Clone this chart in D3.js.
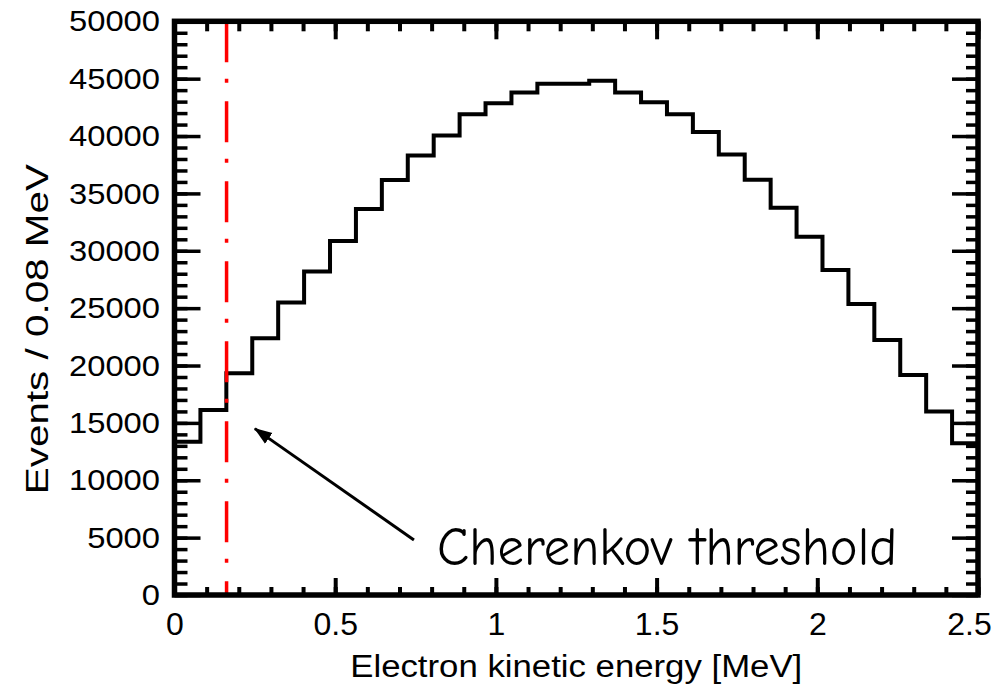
<!DOCTYPE html>
<html>
<head>
<meta charset="utf-8">
<script src="https://cdn.jsdelivr.net/npm/d3@7"></script>
<style>
  html, body { margin: 0; padding: 0; background: #ffffff; }
  svg { display: block; }
</style>
</head>
<body>
<svg id="chart" width="1003" height="685"></svg>
<script>
// Electron kinetic energy spectrum, 31 equal bins spanning the axis range
const energyRange = [0, 2.5];
const countRange = [0, 50000];
const eventsPerBin = [
  13360, 16120, 19320, 22370, 25500, 28200, 30850, 33650, 36170, 38300,
  40050, 41900, 42850, 43800, 44550, 44550, 44820, 43800, 42940, 41900,
  40350, 38400, 36200, 33750, 31230, 28320, 25360, 22220, 19170, 16000,
  13220
];

const xMajorTicks = [0, 0.5, 1, 1.5, 2, 2.5];
const xTickLabels = ["0", "0.5", "1", "1.5", "2", "2.5"];
const yMajorTicks = [0, 5000, 10000, 15000, 20000, 25000, 30000, 35000, 40000, 45000, 50000];
const yTickLabels = ["0", "5000", "10000", "15000", "20000", "25000", "30000", "35000", "40000", "45000", "50000"];

const thresholdEnergy = 0.162;
const xTitle = "Electron kinetic energy [MeV]";
const yTitle = "Events / 0.08 MeV";
const noteText = "Cherenkov threshold";
// annotation anchor points in data units: arrow tip, arrow tail, text start
const noteArrowTip = [0.25, 14500];
const noteArrowTail = [0.745, 4800];
const noteTextAt = [0.817, 2615];

const svg = d3.select("#chart");
const frame = { left: 174.5, right: 978, top: 21.3, bottom: 595 };

const x = d3.scaleLinear().domain(energyRange).range([frame.left, frame.right]);
const y = d3.scaleLinear().domain(countRange).range([frame.bottom, frame.top]);

const sansFont = "'Liberation Sans', Arial, Helvetica, sans-serif";

// ---- tick marks on all four sides, pointing inward ----
function styleTicks(g, width) {
  g.select(".domain").remove();
  g.selectAll(".tick line").attr("stroke", "#000").attr("stroke-width", width);
}

const xMinor = x.ticks(25);
const yMinor = y.ticks(50);

// bottom
svg.append("g").attr("transform", `translate(0,${frame.bottom})`)
  .call(d3.axisBottom(x).tickValues(xMinor).tickSize(-8).tickFormat(""))
  .call(g => styleTicks(g, 4));
const xAxisMajor = svg.append("g").attr("transform", `translate(0,${frame.bottom})`)
  .call(d3.axisBottom(x).tickValues(xMajorTicks).tickSize(-17).tickPadding(17.5)
    .tickFormat((d, i) => xTickLabels[i]))
  .call(g => styleTicks(g, 4));
xAxisMajor.selectAll(".tick text")
  .attr("fill", "#000")
  .attr("font-family", sansFont)
  .attr("font-size", 32)
  .attr("dx", (d, i) => i === xTickLabels.length - 1 ? -9 : 0);

// top
svg.append("g").attr("transform", `translate(0,${frame.top})`)
  .call(d3.axisTop(x).tickValues(xMinor).tickSize(-10).tickFormat(""))
  .call(g => styleTicks(g, 4));
svg.append("g").attr("transform", `translate(0,${frame.top})`)
  .call(d3.axisTop(x).tickValues(xMajorTicks).tickSize(-18).tickFormat(""))
  .call(g => styleTicks(g, 4));

// left
svg.append("g").attr("transform", `translate(${frame.left},0)`)
  .call(d3.axisLeft(y).tickValues(yMinor).tickSize(-13).tickFormat(""))
  .call(g => styleTicks(g, 3.5));
const yAxisMajor = svg.append("g").attr("transform", `translate(${frame.left},0)`)
  .call(d3.axisLeft(y).tickValues(yMajorTicks).tickSize(-26).tickPadding(14.5)
    .tickFormat((d, i) => yTickLabels[i]))
  .call(g => styleTicks(g, 3.5));
yAxisMajor.selectAll(".tick text")
  .attr("fill", "#000")
  .attr("font-family", sansFont)
  .attr("font-size", 30)
  .attr("textLength", (d, i) => yTickLabels[i].length * 18.2)
  .attr("lengthAdjust", "spacingAndGlyphs");

// right
svg.append("g").attr("transform", `translate(${frame.right},0)`)
  .call(d3.axisRight(y).tickValues(yMinor).tickSize(-12).tickFormat(""))
  .call(g => styleTicks(g, 3.5));
svg.append("g").attr("transform", `translate(${frame.right},0)`)
  .call(d3.axisRight(y).tickValues(yMajorTicks).tickSize(-26).tickFormat(""))
  .call(g => styleTicks(g, 3.5));

// ---- histogram outline ----
const binWidth = (energyRange[1] - energyRange[0]) / eventsPerBin.length;
const stepPoints = eventsPerBin.map((v, i) => [energyRange[0] + i * binWidth, v]);
stepPoints.push([energyRange[1], eventsPerBin[eventsPerBin.length - 1]]);

const stepLine = d3.line()
  .x(d => x(d[0]))
  .y(d => y(d[1]))
  .curve(d3.curveStepAfter);

svg.append("path")
  .datum(stepPoints)
  .attr("d", stepLine)
  .attr("fill", "none")
  .attr("stroke", "#000")
  .attr("stroke-width", 4)
  .attr("stroke-linejoin", "miter");

// ---- threshold marker (dash-dot) ----
svg.append("line")
  .attr("x1", x(thresholdEnergy)).attr("x2", x(thresholdEnergy))
  .attr("y1", y(countRange[1])).attr("y2", y(countRange[0]))
  .attr("stroke", "#ff0000")
  .attr("stroke-width", 3.5)
  .attr("stroke-dasharray", "41,16.5,4,18.5");

// ---- frame ----
svg.append("rect")
  .attr("x", frame.left).attr("y", frame.top)
  .attr("width", frame.right - frame.left)
  .attr("height", frame.bottom - frame.top)
  .attr("fill", "none")
  .attr("stroke", "#000")
  .attr("stroke-width", 5.5);

// ---- axis titles ----
svg.append("text")
  .attr("x", (frame.left + frame.right) / 2)
  .attr("y", 677)
  .attr("text-anchor", "middle")
  .attr("font-family", sansFont)
  .attr("font-size", 31)
  .attr("textLength", 452)
  .attr("lengthAdjust", "spacingAndGlyphs")
  .attr("fill", "#000")
  .text(xTitle);

svg.append("text")
  .attr("transform", `translate(48,${(frame.top + frame.bottom) / 2 + 21}) rotate(-90)`)
  .attr("text-anchor", "middle")
  .attr("font-family", sansFont)
  .attr("font-size", 31)
  .attr("textLength", 330)
  .attr("lengthAdjust", "spacingAndGlyphs")
  .attr("fill", "#000")
  .text(yTitle);

// ---- annotation ----
const defs = svg.append("defs");
defs.append("marker")
  .attr("id", "arrowhead")
  .attr("markerUnits", "userSpaceOnUse")
  .attr("viewBox", "0 -7 18 14")
  .attr("markerWidth", 18)
  .attr("markerHeight", 14)
  .attr("refX", 17)
  .attr("refY", 0)
  .attr("orient", "auto")
  .append("path")
  .attr("d", "M0,-6.5L18,0L0,6.5Z")
  .attr("fill", "#000");

svg.append("line")
  .attr("x1", x(noteArrowTail[0])).attr("y1", y(noteArrowTail[1]))
  .attr("x2", x(noteArrowTip[0])).attr("y2", y(noteArrowTip[1]))
  .attr("stroke", "#000")
  .attr("stroke-width", 3)
  .attr("marker-end", "url(#arrowhead)");

svg.append("text")
  .attr("x", x(noteTextAt[0]))
  .attr("y", y(noteTextAt[1]))
  .attr("font-family", "'Comic Sans MS', 'Comic Neue', 'Open Sans', sans-serif")
  .attr("font-size", 54)
  .attr("textLength", 460)
  .attr("lengthAdjust", "spacingAndGlyphs")
  .attr("fill", "#000")
  .text(noteText);
</script>
</body>
</html>
